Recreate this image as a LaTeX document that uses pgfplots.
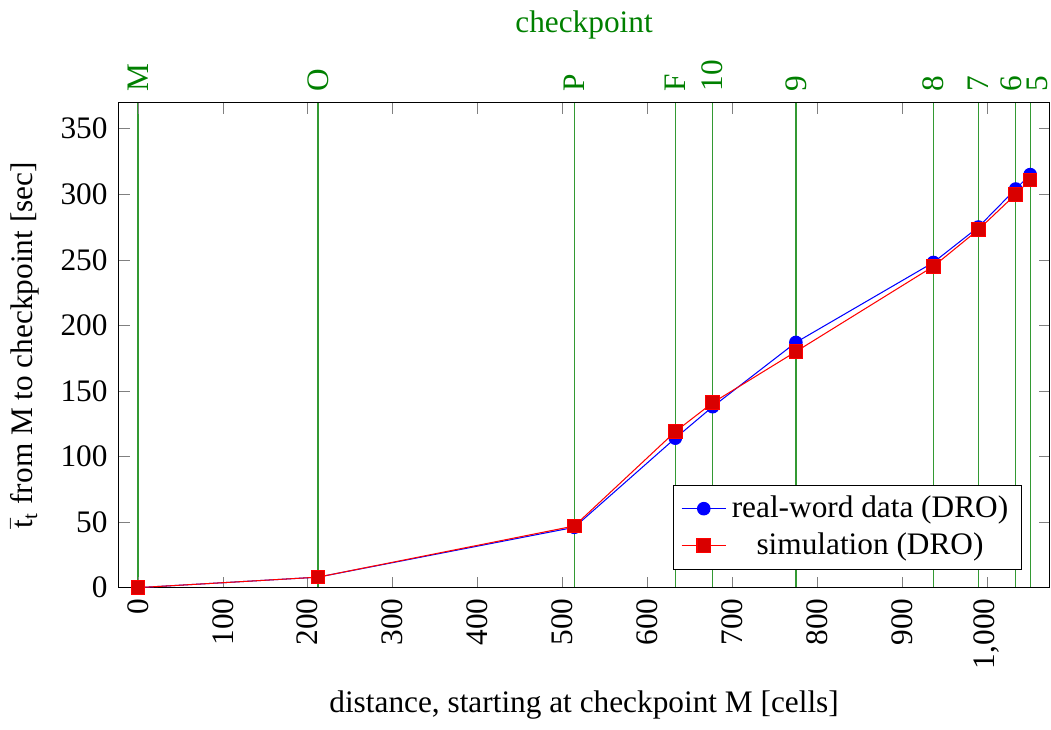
\documentclass[border=0pt,12pt]{standalone}
\usepackage{fontspec}
\setmainfont{Liberation Serif}
\usepackage{pgfplots}
\pgfplotsset{compat=1.18}
\definecolor{cpgreen}{RGB}{0,128,0}
\begin{document}
\begin{tikzpicture}
% top checkpoint axis with vertical lines
\begin{axis}[
  scale only axis, width=357pt, height=186pt,
  xmin=-23, xmax=1074, ymin=0, ymax=370,
  axis x line*=top, axis y line=none,
  xtick={0,212,514,633,677,775,937,990,1034,1051},
  xticklabels={M,O,P,F,10,9,8,7,\raisebox{1.6pt}[\height][\depth]{6},\raisebox{-2.6pt}[\height][\depth]{5}},
  xticklabel style={rotate=90, anchor=west, text=cpgreen},
  major tick style={draw=cpgreen},
  xlabel={checkpoint}, xlabel style={text=cpgreen},
]
\addplot[ycomb, draw=cpgreen!80, line width=0.5pt, no marks] coordinates {
(0,370) (212,370) (514,370) (633,370) (677,370) (775,370) (937,370) (990,370) (1034,370) (1051,370)
};
\end{axis}
\begin{axis}[
  scale only axis, width=357pt, height=186pt,
  xmin=-23, xmax=1074, ymin=0, ymax=370,
  xtick={0,100,...,1000},
  ytick={0,50,...,350},
  xticklabel style={rotate=90, anchor=east},
  /pgf/number format/assume math mode=true,
  xlabel={distance, starting at checkpoint M [cells]},
  ylabel={$\bar{\mathrm{t}}_{\mathrm{t}}$ from M to checkpoint [sec]},
  legend style={at={(0.97,0.037)}, anchor=south east, fill=white, draw=black, cells={anchor=center}},
  legend cell align=center,
]
\addplot[blue, mark=*, mark size=2.4pt, mark options={fill=blue}] coordinates {
(0,0) (212,8) (514,46) (633,114) (677,138) (775,187) (937,248) (990,275) (1034,304) (1051,315)
};
\addlegendentry{real-word data (DRO)}
\addplot[red, mark=square*, mark size=2.6pt, mark options={fill=red!85!black, draw=red}] coordinates {
(0,0) (212,8) (514,47) (633,119) (677,141) (775,180) (937,245) (990,273) (1034,300) (1051,311)
};
\addlegendentry{simulation (DRO)}
\end{axis}
\end{tikzpicture}
\end{document}
